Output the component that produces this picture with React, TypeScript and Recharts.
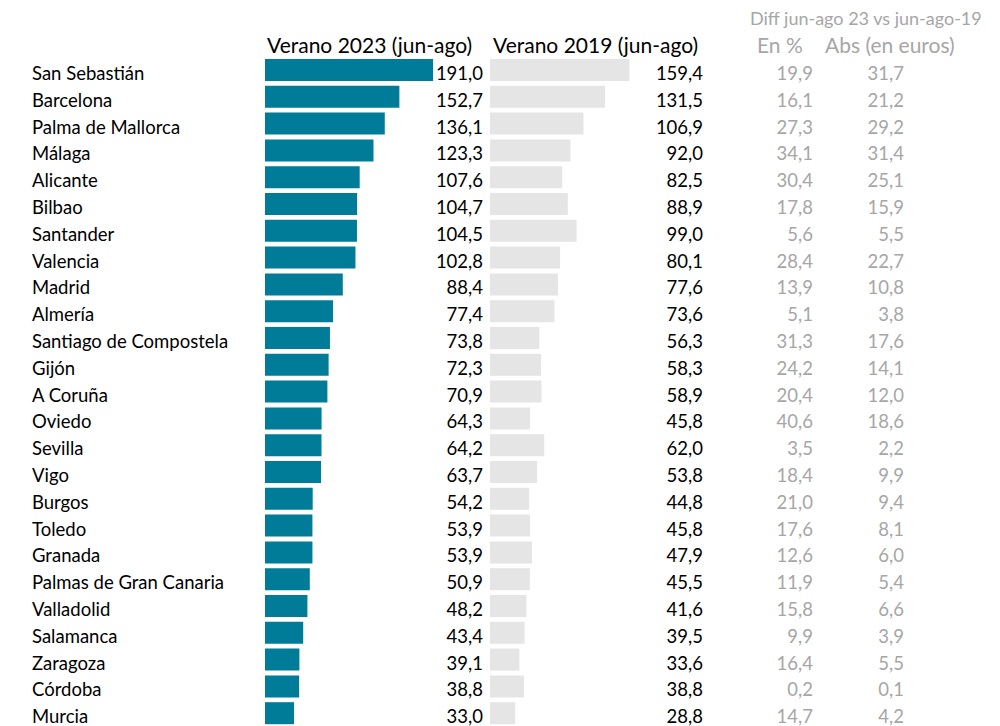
import React from 'react';
import { BarChart, Bar, XAxis, YAxis } from 'recharts';

const cities = ['San Sebastián','Barcelona','Palma de Mallorca','Málaga','Alicante','Bilbao','Santander','Valencia','Madrid','Almería','Santiago de Compostela','Gijón','A Coruña','Oviedo','Sevilla','Vigo','Burgos','Toledo','Granada','Palmas de Gran Canaria','Valladolid','Salamanca','Zaragoza','Córdoba','Murcia'];
const v2023 = [191.0,152.7,136.1,123.3,107.6,104.7,104.5,102.8,88.4,77.4,73.8,72.3,70.9,64.3,64.2,63.7,54.2,53.9,53.9,50.9,48.2,43.4,39.1,38.8,33.0];
const v2019 = [159.4,131.5,106.9,92.0,82.5,88.9,99.0,80.1,77.6,73.6,56.3,58.3,58.9,45.8,62.0,53.8,44.8,45.8,47.9,45.5,41.6,39.5,33.6,38.8,28.8];
const diffPct = [19.9,16.1,27.3,34.1,30.4,17.8,5.6,28.4,13.9,5.1,31.3,24.2,20.4,40.6,3.5,18.4,21.0,17.6,12.6,11.9,15.8,9.9,16.4,0.2,14.7];
const diffAbs = [31.7,21.2,29.2,31.4,25.1,15.9,5.5,22.7,10.8,3.8,17.6,14.1,12.0,18.6,2.2,9.9,9.4,8.1,6.0,5.4,6.6,3.9,5.5,0.1,4.2];

const headers = {
  h2023: 'Verano 2023 (jun-ago)',
  h2019: 'Verano 2019 (jun-ago)',
  diff: 'Diff jun-ago 23 vs jun-ago-19',
  pct: 'En %',
  abs: 'Abs (en euros)',
};

const data = cities.map((c, i) => ({ city: c, v2023: v2023[i], v2019: v2019[i], pct: diffPct[i], abs: diffAbs[i] }));

const fmt = (v: number) => v.toFixed(1).replace('.', ',');
const FONT = 'Lato, "Noto Sans", sans-serif';
const FS = 18.5;
const HFS = 21;
const TEAL = '#007C99';
const GRAY_BAR = '#E5E5E5';
const GRAY_TXT = '#A6A6A6';
const DY = 9.5;

const CityTick = (props: any) => {
  const { x, y, payload } = props;
  return (
    <text x={x - 233} y={y} dy={DY} textAnchor="start" fontFamily={FONT} fontSize={FS} fill="#000">
      {payload.value}
    </text>
  );
};

const V23Tick = (props: any) => {
  const { x, y, index } = props;
  return (
    <text x={x + 42} y={y} dy={DY} textAnchor="end" fontFamily={FONT} fontSize={FS} fill="#000">
      {fmt(v2023[index])}
    </text>
  );
};

const RightTick = (props: any) => {
  const { x, y, index } = props;
  return (
    <g>
      <text x={x + 38} y={y} dy={DY} textAnchor="end" fontFamily={FONT} fontSize={FS} fill="#000">
        {fmt(v2019[index])}
      </text>
      <text x={x + 148} y={y} dy={DY} textAnchor="end" fontFamily={FONT} fontSize={FS} fill={GRAY_TXT}>
        {fmt(diffPct[index])}
      </text>
      <text x={x + 239} y={y} dy={DY} textAnchor="end" fontFamily={FONT} fontSize={FS} fill={GRAY_TXT}>
        {fmt(diffAbs[index])}
      </text>
    </g>
  );
};

export default function App() {
  return (
    <div style={{ position: 'absolute', left: 0, top: 0, width: 1000, height: 726, overflow: 'hidden', background: '#fff' }}>
      <svg width={1000} height={60} style={{ position: 'absolute', left: 0, top: 0 }}>
        <text x={267} y={53} fontFamily={FONT} fontSize={HFS} fill="#000">{headers.h2023}</text>
        <text x={493} y={53} fontFamily={FONT} fontSize={HFS} fill="#000">{headers.h2019}</text>
        <text x={750} y={25} textAnchor="start" fontFamily={FONT} fontSize={18} fill={GRAY_TXT}>{headers.diff}</text>
        <text x={757} y={53} textAnchor="start" fontFamily={FONT} fontSize={HFS} fill={GRAY_TXT}>{headers.pct}</text>
        <text x={825} y={53} textAnchor="start" fontFamily={FONT} fontSize={HFS} fill={GRAY_TXT}>{headers.abs}</text>
      </svg>
      <div style={{ position: 'absolute', left: 0, top: 0 }}>
        <BarChart width={486} height={727} data={data} layout="vertical" margin={{ top: 57, right: 0, bottom: 0, left: 0 }}>
          <XAxis type="number" domain={[0, 200]} hide />
          <YAxis yAxisId="l" type="category" dataKey="city" width={265} axisLine={false} tickLine={false} tickSize={0} tickMargin={0} tick={<CityTick />} interval={0} />
          <YAxis yAxisId="r" orientation="right" type="category" dataKey="city" width={45} axisLine={false} tickLine={false} tickSize={0} tickMargin={0} tick={<V23Tick />} interval={0} />
          <Bar yAxisId="l" dataKey="v2023" fill={TEAL} barSize={22} isAnimationActive={false} />
        </BarChart>
      </div>
      <div style={{ position: 'absolute', left: 490, top: 0 }}>
        <BarChart width={415} height={727} data={data} layout="vertical" margin={{ top: 57, right: 0, bottom: 0, left: 0 }}>
          <XAxis type="number" domain={[0, 200]} hide />
          <YAxis yAxisId="r" orientation="right" type="category" dataKey="city" width={240} axisLine={false} tickLine={false} tickSize={0} tickMargin={0} tick={<RightTick />} interval={0} />
          <Bar yAxisId="r" dataKey="v2019" fill={GRAY_BAR} barSize={22} isAnimationActive={false} />
        </BarChart>
      </div>
    </div>
  );
}
